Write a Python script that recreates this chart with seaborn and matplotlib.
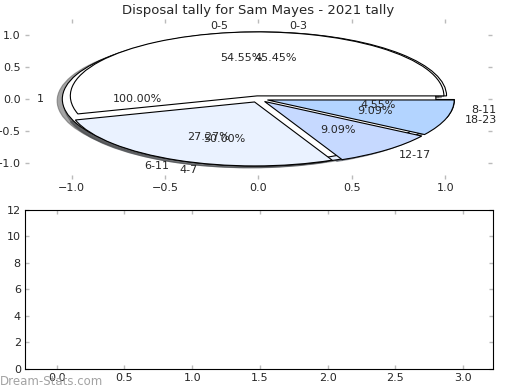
import numpy as np
import seaborn as sns
import matplotlib.pyplot as plt

# disposal tally bands and counts (22 games)
bands_6 = ["0-5", "6-11", "12-17", "18-23"]
counts_6 = [12, 6, 2, 2]
bands_4 = ["0-3", "4-7", "8-11"]
counts_4 = [10, 11, 1]
bands_all = ["1"]
counts_all = [22]

pie_colors = ["#ffffff", "#eaf2ff", "#c6d9ff", "#b3d4ff"]

sns.set_style("white", {"xtick.direction": "in", "ytick.direction": "in"})
plt.rcParams['font.family'] = ['DejaVu Sans']
plt.rcParams['font.size'] = 8

fig = plt.figure(figsize=(5.2, 3.9), dpi=100)
ax1 = fig.add_axes([0.048, 0.541, 0.898, 0.41])
ax2 = fig.add_axes([0.048, 0.054, 0.9, 0.408])

wp = {"edgecolor": "black", "linewidth": 0.8}
tp = {"fontsize": 8}

# three pies stacked on the same axes
ax1.pie(counts_4, labels=bands_4, colors=pie_colors[:3], explode=[0.05] * 3,
        autopct="%1.2f%%", shadow=True, wedgeprops=wp, textprops=tp)
ax1.pie(counts_all, labels=bands_all, colors=pie_colors[:1], explode=[0.05],
        autopct="%1.2f%%", shadow=True, wedgeprops=wp, textprops=tp)
ax1.pie(counts_6, labels=bands_6, colors=pie_colors, explode=[0.05] * 4,
        autopct="%1.2f%%", shadow=True, wedgeprops=wp, textprops=tp)

ax1.set_aspect("auto")
ax1.set_frame_on(False)
ax1.set_xlim(-1.25, 1.25)
ax1.set_ylim(-1.25, 1.25)
ticks = [-1.0, -0.5, 0.0, 0.5, 1.0]
ax1.set_xticks(ticks)
ax1.set_yticks(ticks)
ax1.set_xticklabels([f"{t:.1f}".replace("-", "\u2212") for t in ticks])
ax1.set_yticklabels([f"{t:.1f}".replace("-", "\u2212") for t in ticks])
ax1.set_title("Disposal tally for Sam Mayes - 2021 tally", fontsize=9.5, pad=4)

ax2.set_xlim(-0.234, 3.22)
ax2.set_ylim(0, 12)
ax2.set_yticks(np.arange(0, 13, 2))
ax2.set_xticks(np.arange(0, 3.01, 0.5))
for sp in ax2.spines.values():
    sp.set_visible(True)
    sp.set_color("black")
    sp.set_linewidth(0.8)

for ax in (ax1, ax2):
    ax.tick_params(axis="both", which="both", direction="in", length=3, width=1,
                   color="#bbbbbb", labelsize=8, top=True, right=True,
                   bottom=True, left=True, pad=3)

fig.text(0.0, 0.012, "Dream-Stats.com", color="#999999", fontsize=8.5, alpha=0.9)

fig.savefig("out.png", dpi=100)
